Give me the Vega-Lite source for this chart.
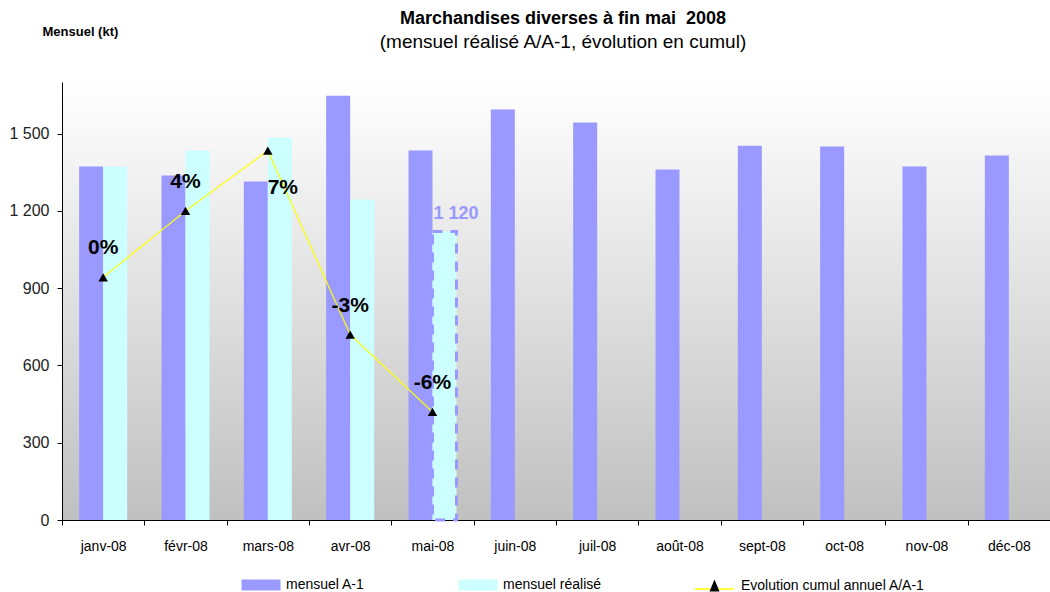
{
  "$schema": "https://vega.github.io/schema/vega-lite/v6.json",
  "width": 988,
  "height": 438,
  "autosize": "none",
  "padding": {"left": 62, "top": 82, "right": 0, "bottom": 72},
  "background": "white",
  "config": {
    "font": "Liberation Sans",
    "locale": {
      "number": {"decimal": ",", "thousands": " ", "grouping": [3], "currency": ["", " €"], "minus": "-"}
    },
    "view": {
      "stroke": null,
      "fill": {
        "gradient": "linear",
        "x1": 0, "y1": 0, "x2": 0, "y2": 1,
        "stops": [
          {"offset": 0, "color": "#ffffff"},
          {"offset": 1, "color": "#c0c0c0"}
        ]
      }
    }
  },
  "title": {
    "text": "Marchandises diverses à fin mai \u00a02008",
    "subtitle": "(mensuel réalisé A/A-1, évolution en cumul)",
    "fontSize": 18,
    "fontWeight": "bold",
    "color": "#000000",
    "subtitleFontSize": 19,
    "subtitleColor": "#000000",
    "subtitlePadding": 5,
    "anchor": "middle",
    "dx": 7,
    "offset": -27
  },
  "datasets": {
    "bars": [
      {"month": "janv-08", "series": "mensuel A-1", "value": 1372},
      {"month": "janv-08", "series": "mensuel réalisé", "value": 1372},
      {"month": "févr-08", "series": "mensuel A-1", "value": 1337},
      {"month": "févr-08", "series": "mensuel réalisé", "value": 1434},
      {"month": "mars-08", "series": "mensuel A-1", "value": 1314},
      {"month": "mars-08", "series": "mensuel réalisé", "value": 1484},
      {"month": "avr-08", "series": "mensuel A-1", "value": 1647},
      {"month": "avr-08", "series": "mensuel réalisé", "value": 1244},
      {"month": "mai-08", "series": "mensuel A-1", "value": 1434},
      {"month": "mai-08", "series": "mensuel réalisé", "value": 1120},
      {"month": "juin-08", "series": "mensuel A-1", "value": 1593},
      {"month": "juil-08", "series": "mensuel A-1", "value": 1543},
      {"month": "août-08", "series": "mensuel A-1", "value": 1360},
      {"month": "sept-08", "series": "mensuel A-1", "value": 1453},
      {"month": "oct-08", "series": "mensuel A-1", "value": 1450},
      {"month": "nov-08", "series": "mensuel A-1", "value": 1372},
      {"month": "déc-08", "series": "mensuel A-1", "value": 1415}
    ],
    "evol": [
      {"month": "janv-08", "pct": 0.3, "label": "0%"},
      {"month": "févr-08", "pct": 3.6, "label": "4%"},
      {"month": "mars-08", "pct": 6.6, "label": "7%"},
      {"month": "avr-08", "pct": -2.55, "label": "-3%"},
      {"month": "mai-08", "pct": -6.4, "label": "-6%"}
    ]
  },
  "resolve": {"scale": {"y": "independent"}},
  "layer": [
    {
      "data": {"name": "bars"},
      "encoding": {
        "x": {
          "field": "month",
          "type": "nominal",
          "sort": ["janv-08", "févr-08", "mars-08", "avr-08", "mai-08", "juin-08", "juil-08", "août-08", "sept-08", "oct-08", "nov-08", "déc-08"],
          "scale": {"paddingInner": 0, "paddingOuter": 0},
          "title": null,
          "axis": {
            "labelAngle": 0,
            "labelFontSize": 14,
            "labelColor": "#000000",
            "labelPadding": 14,
            "domainColor": "#000000",
            "tickColor": "#000000",
            "tickSize": 5,
            "tickBand": "extent"
          }
        },
        "xOffset": {
          "field": "series",
          "sort": ["mensuel A-1", "mensuel réalisé"],
          "scale": {"paddingInner": 0, "paddingOuter": 0.715}
        },
        "y": {
          "field": "value",
          "type": "quantitative",
          "scale": {"domain": [0, 1700], "nice": false},
          "axis": {
            "values": [0, 300, 600, 900, 1200, 1500],
            "format": ",d",
            "labelFontSize": 16,
            "labelColor": "#222222",
            "labelPadding": 8,
            "domainColor": "#000000",
            "tickColor": "#000000",
            "tickSize": 5,
            "grid": false,
            "title": "Mensuel (kt)",
            "titleAngle": 0,
            "titleAlign": "left",
            "titleBaseline": "middle",
            "titleX": -20,
            "titleY": -51,
            "titleFontSize": 13,
            "titleFontWeight": "bold",
            "titleColor": "#000000"
          }
        }
      },
      "layer": [
        {
          "transform": [{"filter": "!(datum.month == 'mai-08' && datum.series == 'mensuel réalisé')"}],
          "mark": {"type": "bar"},
          "encoding": {
            "color": {
              "field": "series",
              "type": "nominal",
              "scale": {"domain": ["mensuel A-1", "mensuel réalisé"], "range": ["#9999ff", "#ccffff"]},
              "legend": {
                "orient": "none",
                "legendX": 178,
                "legendY": 496,
                "direction": "horizontal",
                "title": null,
                "symbolType": "M-1,-1H6.1V1H-1Z",
                "symbolSize": 121,
                "symbolStrokeWidth": 0,
                "labelOffset": 32,
                "labelFontSize": 14,
                "labelColor": "#000000",
                "columnPadding": 92
              }
            }
          }
        },
        {
          "transform": [{"filter": "datum.month == 'mai-08' && datum.series == 'mensuel réalisé'"}],
          "mark": {"type": "bar", "fill": "#ccffff", "stroke": "#9999ff", "strokeWidth": 3, "strokeDash": [10, 8]}
        },
        {
          "transform": [{"filter": "datum.month == 'mai-08' && datum.series == 'mensuel réalisé'"}],
          "mark": {"type": "text", "fontSize": 18, "fontWeight": "bold", "color": "#9999ff", "align": "left", "dx": -11, "dy": -17},
          "encoding": {"text": {"field": "value", "type": "quantitative", "format": ",d"}}
        }
      ]
    },
    {
      "data": {"name": "evol"},
      "encoding": {
        "x": {
          "field": "month",
          "type": "nominal",
          "sort": ["janv-08", "févr-08", "mars-08", "avr-08", "mai-08", "juin-08", "juil-08", "août-08", "sept-08", "oct-08", "nov-08", "déc-08"]
        },
        "y": {
          "field": "pct",
          "type": "quantitative",
          "scale": {"domain": [-11.777, 10.018], "nice": false, "zero": false},
          "axis": null
        }
      },
      "layer": [
        {
          "mark": {"type": "line", "color": "#ffff00", "strokeWidth": 1.2},
          "encoding": {
            "strokeDash": {
              "datum": "Evolution cumul annuel A/A-1",
              "type": "nominal",
              "scale": {"range": [[1, 0]]},
              "legend": {
                "orient": "none",
                "legendX": 631,
                "legendY": 497,
                "direction": "horizontal",
                "title": null,
                "symbolType": "M-1,0.6H6.8",
                "symbolSize": 100,
                "symbolStrokeColor": "#ffff00",
                "symbolStrokeWidth": 1.5,
                "labelOffset": 34,
                "labelFontSize": 14,
                "labelLimit": 300,
                "labelColor": "#000000"
              }
            }
          }
        },
        {
          "mark": {"type": "point", "shape": "triangle-up", "filled": true, "color": "#000000", "size": 90, "opacity": 1}
        },
        {
          "mark": {"type": "point", "filled": true, "color": "#000000", "opacity": 0},
          "encoding": {
            "shape": {
              "datum": " ",
              "type": "nominal",
              "scale": {"range": ["M2.9,-1.3L3.9,1.1L1.9,1.1Z"]},
              "legend": {
                "orient": "none",
                "legendX": 631,
                "legendY": 497,
                "direction": "horizontal",
                "title": null,
                "symbolSize": 100,
                "symbolOpacity": 1,
                "symbolFillColor": "#000000",
                "labelOffset": 34,
                "labelFontSize": 14,
                "labelColor": "#000000"
              }
            }
          }
        },
        {
          "transform": [{"filter": "datum.month != 'mars-08'"}],
          "mark": {"type": "text", "fontSize": 21, "fontWeight": "bold", "color": "#000000", "dy": -29},
          "encoding": {"text": {"field": "label", "type": "nominal"}}
        },
        {
          "transform": [{"filter": "datum.month == 'mars-08'"}],
          "mark": {"type": "text", "fontSize": 21, "fontWeight": "bold", "color": "#000000", "dx": 15, "dy": 37},
          "encoding": {"text": {"field": "label", "type": "nominal"}}
        }
      ]
    }
  ]
}
